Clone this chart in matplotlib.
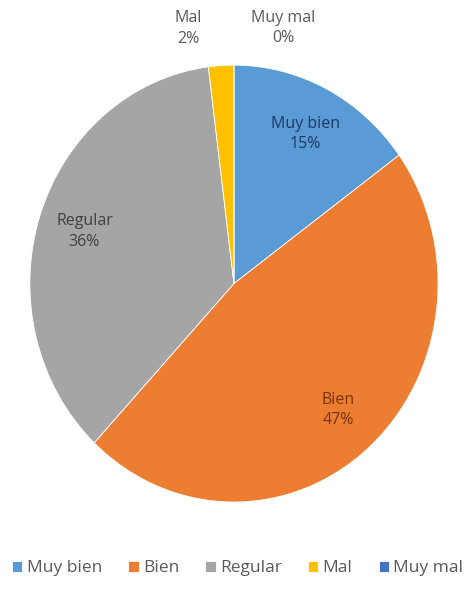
import numpy as np
import matplotlib.pyplot as plt

categories = ["Muy bien", "Bien", "Regular", "Mal", "Muy mal"]
values = [15, 47, 36, 2, 0]
colors = ["#5B9BD5", "#ED7D31", "#A5A5A5", "#FFC000", "#4472C4"]
label_colors = ["#1F3864", "#7A3208", "#404040", "#595959", "#595959"]

plt.rcParams['font.family'] = ['Open Sans', 'DejaVu Sans']

fig = plt.figure(figsize=(4.66, 5.92), dpi=100)
ax = fig.add_axes([0.064, 0.152, 0.876, 0.738])

wedges, _ = ax.pie(values, colors=colors, startangle=90, counterclock=False,
                   radius=1, wedgeprops=dict(edgecolor="white", linewidth=0.6))
ax.set_aspect('auto')
ax.set_xlim(-1, 1)
ax.set_ylim(-1, 1)

total = sum(values)
# small slices at the top get labels outside, pushed apart sideways
outside_shift = {3: -0.15, 4: 0.24}
for i, w in enumerate(wedges):
    mid = np.deg2rad((w.theta1 + w.theta2) / 2)
    txt = f"{categories[i]}\n{values[i] / total:.0%}"
    if i in outside_shift:
        x = 1.17 * np.cos(mid) + outside_shift[i]
        y = 1.17 * np.sin(mid)
    else:
        x = 0.77 * np.cos(mid)
        y = 0.77 * np.sin(mid)
    ax.text(x, y, txt, ha="center", va="center", fontsize=11.5,
            color=label_colors[i], linespacing=1.35, clip_on=False)

leg = fig.legend(wedges, categories, loc="center", bbox_to_anchor=(0.51, 0.04),
                 ncol=5, frameon=False, fontsize=12.5, handlelength=0.6,
                 handleheight=0.6, handletextpad=0.25, columnspacing=1.5,
                 labelcolor="#595959")

fig.savefig("out.png", dpi=100)
